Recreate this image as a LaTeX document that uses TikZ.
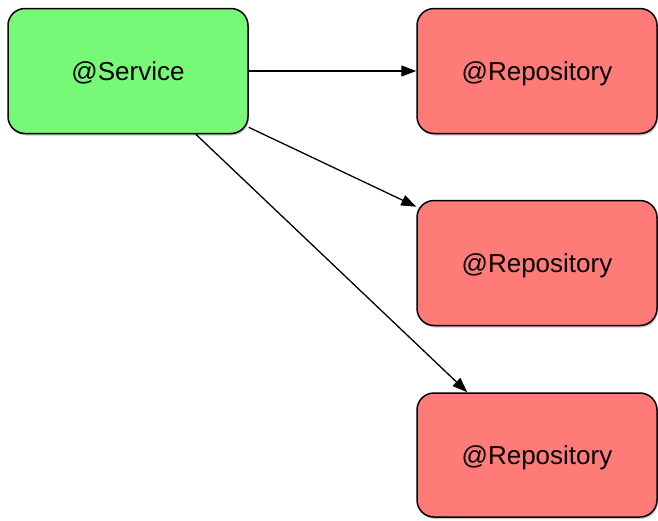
\documentclass[tikz,border=0pt]{standalone}
\usepackage{fontspec}
\setmainfont{Liberation Sans}
\usetikzlibrary{arrows.meta,shadows}

\definecolor{svcgreen}{RGB}{119,249,119}
\definecolor{repored}{RGB}{255,123,120}

\tikzset{every picture/.style={line width=0.5pt}}
\tikzset{
  bean/.style={draw=black, line width=1.5, rounded corners=17, minimum width=240, minimum height=125,
    inner sep=0pt, text depth=0pt, font=\fontsize{26}{30}\selectfont,
    drop shadow={shadow xshift=1pt, shadow yshift=-2pt, opacity=0.35, fill=black!60}},
  uses/.style={line width=1.3, -{Triangle[length=15pt,width=11pt]}}
}

\begin{document}
\begin{tikzpicture}[x=1pt,y=1pt,yscale=-1,xscale=1]
\useasboundingbox (0,0) rectangle (658,520);

% Service
\node [bean, fill=svcgreen] (svc) at (128,71) {@Service};
% Repositories
\node [bean, fill=repored] (repoA) at (537,71) {@Repository};
\node [bean, fill=repored] (repoB) at (537,263) {@Repository};
\node [bean, fill=repored, minimum height=124] (repoC) at (537,455) {@Repository};

% Dependencies
\draw [uses] (svc.east) -- (repoA.west);
\draw [uses] (svc.-25) -- (repoB.155);
\draw [uses] (svc.-43) -- (repoC.138);
\end{tikzpicture}
\end{document}
